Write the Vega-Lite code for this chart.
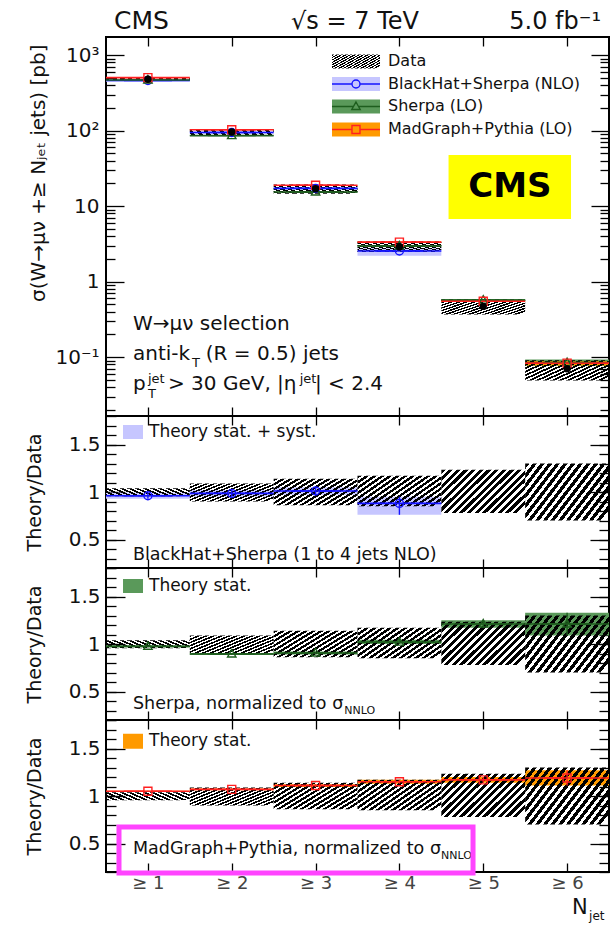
{
"$schema": "https://vega.github.io/schema/vega-lite/v6.json",
"padding": {"left": 24, "top": 7, "right": 5, "bottom": 0},
"spacing": 0,
"bounds": "flush",
"config": {
  "font": "DejaVu Sans",
  "view": {"stroke": "#000", "strokeWidth": 2},
  "axis": {"grid": false, "domain": false, "tickColor": "#000", "tickWidth": 1.3, "labelFont": "DejaVu Sans", "labelColor": "#111", "labelOverlap": false, "titleFont": "DejaVu Sans", "titleFontWeight": "normal", "titleColor": "#111"},
  "text": {"color": "#111"}
},
"datasets": {
  "xs": [
    {"nj": 1, "nlo": 0.5, "nhi": 1.5, "xsec": 480, "dlo": 458, "dhi": 499, "rlo": 0.955, "rhi": 1.04},
    {"nj": 2, "nlo": 1.5, "nhi": 2.5, "xsec": 96, "dlo": 86.4, "dhi": 104.6, "rlo": 0.90, "rhi": 1.09},
    {"nj": 3, "nlo": 2.5, "nhi": 3.5, "xsec": 17.0, "dlo": 14.6, "dhi": 19.4, "rlo": 0.86, "rhi": 1.14},
    {"nj": 4, "nlo": 3.5, "nhi": 4.5, "xsec": 2.9, "dlo": 2.47, "dhi": 3.39, "rlo": 0.85, "rhi": 1.17},
    {"nj": 5, "nlo": 4.5, "nhi": 5.5, "xsec": 0.47, "dlo": 0.367, "dhi": 0.580, "rlo": 0.78, "rhi": 1.235},
    {"nj": 6, "nlo": 5.5, "nhi": 6.5, "xsec": 0.070, "dlo": 0.049, "dhi": 0.091, "rlo": 0.70, "rhi": 1.30}
  ],
  "th": [
    {"model": "BlackHat+Sherpa (NLO)", "nj": 1, "nlo": 0.5, "nhi": 1.5, "ratio": 0.96, "rlo": 0.93, "rhi": 0.995, "val": 461, "vlo": 446, "vhi": 478},
    {"model": "BlackHat+Sherpa (NLO)", "nj": 2, "nlo": 1.5, "nhi": 2.5, "ratio": 0.985, "rlo": 0.95, "rhi": 1.02, "val": 94.6, "vlo": 91.2, "vhi": 97.9},
    {"model": "BlackHat+Sherpa (NLO)", "nj": 3, "nlo": 2.5, "nhi": 3.5, "ratio": 1.01, "rlo": 0.97, "rhi": 1.05, "val": 17.2, "vlo": 16.5, "vhi": 17.9},
    {"model": "BlackHat+Sherpa (NLO)", "nj": 4, "nlo": 3.5, "nhi": 4.5, "ratio": 0.88, "rlo": 0.76, "rhi": 0.95, "val": 2.55, "vlo": 2.20, "vhi": 2.76},
    {"model": "Sherpa (LO)", "nj": 1, "nlo": 0.5, "nhi": 1.5, "ratio": 0.975, "rlo": 0.965, "rhi": 0.985, "val": 468, "vlo": 463, "vhi": 473},
    {"model": "Sherpa (LO)", "nj": 2, "nlo": 1.5, "nhi": 2.5, "ratio": 0.895, "rlo": 0.885, "rhi": 0.905, "val": 85.9, "vlo": 85.0, "vhi": 86.9},
    {"model": "Sherpa (LO)", "nj": 3, "nlo": 2.5, "nhi": 3.5, "ratio": 0.905, "rlo": 0.89, "rhi": 0.92, "val": 15.4, "vlo": 15.1, "vhi": 15.6},
    {"model": "Sherpa (LO)", "nj": 4, "nlo": 3.5, "nhi": 4.5, "ratio": 1.02, "rlo": 1.0, "rhi": 1.045, "val": 2.96, "vlo": 2.90, "vhi": 3.03},
    {"model": "Sherpa (LO)", "nj": 5, "nlo": 4.5, "nhi": 5.5, "ratio": 1.21, "rlo": 1.17, "rhi": 1.25, "val": 0.569, "vlo": 0.550, "vhi": 0.588},
    {"model": "Sherpa (LO)", "nj": 6, "nlo": 5.5, "nhi": 6.5, "ratio": 1.21, "rlo": 1.09, "rhi": 1.33, "val": 0.0847, "vlo": 0.0763, "vhi": 0.0931},
    {"model": "MadGraph+Pythia (LO)", "nj": 1, "nlo": 0.5, "nhi": 1.5, "ratio": 1.05, "rlo": 1.045, "rhi": 1.055, "val": 504, "vlo": 502, "vhi": 506},
    {"model": "MadGraph+Pythia (LO)", "nj": 2, "nlo": 1.5, "nhi": 2.5, "ratio": 1.07, "rlo": 1.06, "rhi": 1.08, "val": 102.7, "vlo": 101.8, "vhi": 103.7},
    {"model": "MadGraph+Pythia (LO)", "nj": 3, "nlo": 2.5, "nhi": 3.5, "ratio": 1.11, "rlo": 1.095, "rhi": 1.125, "val": 18.9, "vlo": 18.6, "vhi": 19.1},
    {"model": "MadGraph+Pythia (LO)", "nj": 4, "nlo": 3.5, "nhi": 4.5, "ratio": 1.15, "rlo": 1.13, "rhi": 1.17, "val": 3.34, "vlo": 3.28, "vhi": 3.39},
    {"model": "MadGraph+Pythia (LO)", "nj": 5, "nlo": 4.5, "nhi": 5.5, "ratio": 1.17, "rlo": 1.14, "rhi": 1.20, "val": 0.550, "vlo": 0.536, "vhi": 0.564},
    {"model": "MadGraph+Pythia (LO)", "nj": 6, "nlo": 5.5, "nhi": 6.5, "ratio": 1.19, "rlo": 1.11, "rhi": 1.27, "val": 0.0833, "vlo": 0.0777, "vhi": 0.0889}
  ]
},
"vconcat": [
{
  "width": 503, "height": 379,
  "resolve": {"axis": {"x": "independent", "y": "independent"}},
  "layer": [
    {"data": {"name": "th"}, "mark": {"type": "rect"},
     "encoding": {
       "x": {"field": "nlo", "type": "quantitative", "scale": {"domain": [0.5, 6.5], "nice": false, "zero": false}, "axis": {"orient": "top", "values": [1,2,3,4,5,6], "labels": false, "tickSize": -9, "title": null}},
       "x2": {"field": "nhi"},
       "y": {"field": "vlo", "type": "quantitative", "scale": {"type": "log", "domain": [0.0166, 1740], "nice": false}, "axis": {"orient": "left", "values": [0.02,0.03,0.04,0.05,0.06,0.07,0.08,0.09,0.2,0.3,0.4,0.5,0.6,0.7,0.8,0.9,2,3,4,5,6,7,8,9,20,30,40,50,60,70,80,90,200,300,400,500,600,700,800,900], "labels": false, "tickSize": -9, "title": null}},
       "y2": {"field": "vhi"},
       "fill": {"field": "model", "type": "nominal", "scale": {"domain": ["BlackHat+Sherpa (NLO)", "Sherpa (LO)", "MadGraph+Pythia (LO)"], "range": ["#c6c6ff", "#5a995a", "#ff9a00"]}, "legend": null}
     }},
    {"data": {"name": "xs"},
     "mark": {"type": "rect", "fill": {"gradient":"linear","x1":0,"y1":0,"x2":1.15,"y2":0.6,"stops":[{"offset":0,"color":"#000"},{"offset":0.034,"color":"#000"},{"offset":0.034,"color":"transparent"},{"offset":0.0625,"color":"transparent"},{"offset":0.0625,"color":"#000"},{"offset":0.0965,"color":"#000"},{"offset":0.0965,"color":"transparent"},{"offset":0.125,"color":"transparent"},{"offset":0.125,"color":"#000"},{"offset":0.159,"color":"#000"},{"offset":0.159,"color":"transparent"},{"offset":0.1875,"color":"transparent"},{"offset":0.1875,"color":"#000"},{"offset":0.2215,"color":"#000"},{"offset":0.2215,"color":"transparent"},{"offset":0.25,"color":"transparent"},{"offset":0.25,"color":"#000"},{"offset":0.284,"color":"#000"},{"offset":0.284,"color":"transparent"},{"offset":0.3125,"color":"transparent"},{"offset":0.3125,"color":"#000"},{"offset":0.3465,"color":"#000"},{"offset":0.3465,"color":"transparent"},{"offset":0.375,"color":"transparent"},{"offset":0.375,"color":"#000"},{"offset":0.409,"color":"#000"},{"offset":0.409,"color":"transparent"},{"offset":0.4375,"color":"transparent"},{"offset":0.4375,"color":"#000"},{"offset":0.4715,"color":"#000"},{"offset":0.4715,"color":"transparent"},{"offset":0.5,"color":"transparent"},{"offset":0.5,"color":"#000"},{"offset":0.534,"color":"#000"},{"offset":0.534,"color":"transparent"},{"offset":0.5625,"color":"transparent"},{"offset":0.5625,"color":"#000"},{"offset":0.5965,"color":"#000"},{"offset":0.5965,"color":"transparent"},{"offset":0.625,"color":"transparent"},{"offset":0.625,"color":"#000"},{"offset":0.659,"color":"#000"},{"offset":0.659,"color":"transparent"},{"offset":0.6875,"color":"transparent"},{"offset":0.6875,"color":"#000"},{"offset":0.7215,"color":"#000"},{"offset":0.7215,"color":"transparent"},{"offset":0.75,"color":"transparent"},{"offset":0.75,"color":"#000"},{"offset":0.784,"color":"#000"},{"offset":0.784,"color":"transparent"},{"offset":0.8125,"color":"transparent"},{"offset":0.8125,"color":"#000"},{"offset":0.8465,"color":"#000"},{"offset":0.8465,"color":"transparent"},{"offset":0.875,"color":"transparent"},{"offset":0.875,"color":"#000"},{"offset":0.909,"color":"#000"},{"offset":0.909,"color":"transparent"},{"offset":0.9375,"color":"transparent"},{"offset":0.9375,"color":"#000"},{"offset":0.9715,"color":"#000"},{"offset":0.9715,"color":"transparent"},{"offset":1,"color":"transparent"}]}},
     "encoding": {
       "x": {"field": "nlo", "type": "quantitative", "axis": {"orient": "bottom", "values": [1,2,3,4,5,6], "labels": false, "tickSize": -9, "title": null}},
       "x2": {"field": "nhi"},
       "y": {"field": "dlo", "type": "quantitative", "axis": {"orient": "left", "values": [0.1, 1, 10, 100, 1000], "ticks": false, "labelPadding": 7, "labelFontSize": 20, "labelExpr": "datum.value >= 999 ? '10³' : datum.value >= 99 ? '10²' : datum.value >= 9 ? '10' : datum.value >= 0.9 ? '1' : '10⁻¹'", "title": "σ(W→μν +≥ Nⱼₑₜ jets) [pb]", "titleX": -62, "titleY": 7, "titleAngle": 270, "titleAlign": "right", "titleBaseline": "alphabetic", "titleFontSize": 20}},
       "y2": {"field": "dhi"}
     }},
    {"data": {"name": "th"}, "mark": {"type": "rule", "strokeWidth": 1.6},
     "encoding": {
       "x": {"field": "nlo", "type": "quantitative", "axis": null},
       "x2": {"field": "nhi"},
       "y": {"field": "val", "type": "quantitative", "axis": {"orient": "right", "values": [0.1, 1, 10, 100, 1000], "labels": false, "tickSize": -18, "title": null}},
       "stroke": {"field": "model", "type": "nominal", "scale": {"domain": ["BlackHat+Sherpa (NLO)", "Sherpa (LO)", "MadGraph+Pythia (LO)"], "range": ["#1414ff", "#1e5e1e", "#ff2020"]}, "legend": null}
     }},
    {"data": {"name": "th"}, "mark": {"type": "point", "filled": false, "size": 400, "strokeWidth": 1.4, "opacity": 1},
     "encoding": {
       "x": {"field": "nj", "type": "quantitative", "axis": null},
       "y": {"field": "val", "type": "quantitative", "axis": {"orient": "right", "values": [0.02,0.03,0.04,0.05,0.06,0.07,0.08,0.09,0.2,0.3,0.4,0.5,0.6,0.7,0.8,0.9,2,3,4,5,6,7,8,9,20,30,40,50,60,70,80,90,200,300,400,500,600,700,800,900], "labels": false, "tickSize": -9, "title": null}},
       "stroke": {"field": "model", "type": "nominal", "legend": null},
       "shape": {"field": "model", "type": "nominal", "scale": {"domain": ["BlackHat+Sherpa (NLO)", "Sherpa (LO)", "MadGraph+Pythia (LO)"], "range": ["M-2.4,0H-0.4M0.4,0H2.4M0.4,0A0.4,0.4,0,1,1,-0.4,0A0.4,0.4,0,1,1,0.4,0", "M-2.4,0H-0.3M0.3,0H2.4M0,-0.45L0.42,0.3L-0.42,0.3Z", "M-2.4,0H-0.4M0.4,0H2.4M-0.4,-0.4H0.4V0.4H-0.4Z"]}, "legend": null}
     }},
    {"data": {"name": "xs"}, "mark": {"type": "point", "filled": true, "size": 55, "color": "#000", "opacity": 1},
     "encoding": {
       "x": {"field": "nj", "type": "quantitative", "axis": null},
       "y": {"field": "xsec", "type": "quantitative", "axis": {"orient": "left", "values": [0.1, 1, 10, 100, 1000], "labels": false, "tickSize": -18, "title": null}}
     }},
    {"data": {"values": [{}]}, "mark": {"type": "rect", "fill": {"gradient":"linear","x1":0,"y1":0,"x2":1.15,"y2":0.6,"stops":[{"offset":0,"color":"#000"},{"offset":0.034,"color":"#000"},{"offset":0.034,"color":"transparent"},{"offset":0.0625,"color":"transparent"},{"offset":0.0625,"color":"#000"},{"offset":0.0965,"color":"#000"},{"offset":0.0965,"color":"transparent"},{"offset":0.125,"color":"transparent"},{"offset":0.125,"color":"#000"},{"offset":0.159,"color":"#000"},{"offset":0.159,"color":"transparent"},{"offset":0.1875,"color":"transparent"},{"offset":0.1875,"color":"#000"},{"offset":0.2215,"color":"#000"},{"offset":0.2215,"color":"transparent"},{"offset":0.25,"color":"transparent"},{"offset":0.25,"color":"#000"},{"offset":0.284,"color":"#000"},{"offset":0.284,"color":"transparent"},{"offset":0.3125,"color":"transparent"},{"offset":0.3125,"color":"#000"},{"offset":0.3465,"color":"#000"},{"offset":0.3465,"color":"transparent"},{"offset":0.375,"color":"transparent"},{"offset":0.375,"color":"#000"},{"offset":0.409,"color":"#000"},{"offset":0.409,"color":"transparent"},{"offset":0.4375,"color":"transparent"},{"offset":0.4375,"color":"#000"},{"offset":0.4715,"color":"#000"},{"offset":0.4715,"color":"transparent"},{"offset":0.5,"color":"transparent"},{"offset":0.5,"color":"#000"},{"offset":0.534,"color":"#000"},{"offset":0.534,"color":"transparent"},{"offset":0.5625,"color":"transparent"},{"offset":0.5625,"color":"#000"},{"offset":0.5965,"color":"#000"},{"offset":0.5965,"color":"transparent"},{"offset":0.625,"color":"transparent"},{"offset":0.625,"color":"#000"},{"offset":0.659,"color":"#000"},{"offset":0.659,"color":"transparent"},{"offset":0.6875,"color":"transparent"},{"offset":0.6875,"color":"#000"},{"offset":0.7215,"color":"#000"},{"offset":0.7215,"color":"transparent"},{"offset":0.75,"color":"transparent"},{"offset":0.75,"color":"#000"},{"offset":0.784,"color":"#000"},{"offset":0.784,"color":"transparent"},{"offset":0.8125,"color":"transparent"},{"offset":0.8125,"color":"#000"},{"offset":0.8465,"color":"#000"},{"offset":0.8465,"color":"transparent"},{"offset":0.875,"color":"transparent"},{"offset":0.875,"color":"#000"},{"offset":0.909,"color":"#000"},{"offset":0.909,"color":"transparent"},{"offset":0.9375,"color":"transparent"},{"offset":0.9375,"color":"#000"},{"offset":0.9715,"color":"#000"},{"offset":0.9715,"color":"transparent"},{"offset":1,"color":"transparent"}]}},
     "encoding": {"x": {"datum": 3.196, "type": "quantitative", "axis": null}, "x2": {"datum": 3.7685}, "y": {"datum": 665.8, "type": "quantitative", "axis": null}, "y2": {"datum": 1020.4}}},
    {"data": {"values": [{}]}, "mark": {"type": "rect", "fill": "#c6c6ff"},
     "encoding": {"x": {"datum": 3.196, "type": "quantitative", "axis": null}, "x2": {"datum": 3.7685}, "y": {"datum": 335.1, "type": "quantitative", "axis": null}, "y2": {"datum": 513.5}}},
    {"data": {"values": [{}]}, "mark": {"type": "rect", "fill": "#5a995a"},
     "encoding": {"x": {"datum": 3.196, "type": "quantitative", "axis": null}, "x2": {"datum": 3.7685}, "y": {"datum": 168.7, "type": "quantitative", "axis": null}, "y2": {"datum": 258.6}}},
    {"data": {"values": [{}]}, "mark": {"type": "rect", "fill": "#ff9a00"},
     "encoding": {"x": {"datum": 3.196, "type": "quantitative", "axis": null}, "x2": {"datum": 3.7685}, "y": {"datum": 83.7, "type": "quantitative", "axis": null}, "y2": {"datum": 128.3}}},
    {"data": {"values": [{}]}, "mark": {"type": "point", "filled": false, "size": 400, "strokeWidth": 1.4, "opacity": 1, "color": "#1414ff", "shape": "M-2.4,0H-0.4M0.4,0H2.4M0.4,0A0.4,0.4,0,1,1,-0.4,0A0.4,0.4,0,1,1,0.4,0"},
     "encoding": {"x": {"datum": 3.482, "type": "quantitative", "axis": null}, "y": {"datum": 414.8, "type": "quantitative", "axis": null}}},
    {"data": {"values": [{}]}, "mark": {"type": "point", "filled": false, "size": 400, "strokeWidth": 1.4, "opacity": 1, "color": "#1e5e1e", "shape": "M-2.4,0H-0.3M0.3,0H2.4M0,-0.45L0.42,0.3L-0.42,0.3Z"},
     "encoding": {"x": {"datum": 3.482, "type": "quantitative", "axis": null}, "y": {"datum": 208.9, "type": "quantitative", "axis": null}}},
    {"data": {"values": [{}]}, "mark": {"type": "point", "filled": false, "size": 400, "strokeWidth": 1.4, "opacity": 1, "color": "#ff2020", "shape": "M-2.4,0H-0.4M0.4,0H2.4M-0.4,-0.4H0.4V0.4H-0.4Z"},
     "encoding": {"x": {"datum": 3.482, "type": "quantitative", "axis": null}, "y": {"datum": 103.6, "type": "quantitative", "axis": null}}},
    {"data": {"values": [{}]}, "mark": {"type": "text", "text": "Data", "align": "left", "baseline": "middle", "fontSize": 16},
     "encoding": {"x": {"datum": 3.864, "type": "quantitative", "axis": null}, "y": {"datum": 824.2, "type": "quantitative", "axis": null}}},
    {"data": {"values": [{}]}, "mark": {"type": "text", "text": "BlackHat+Sherpa (NLO)", "align": "left", "baseline": "middle", "fontSize": 16},
     "encoding": {"x": {"datum": 3.864, "type": "quantitative", "axis": null}, "y": {"datum": 414.8, "type": "quantitative", "axis": null}}},
    {"data": {"values": [{}]}, "mark": {"type": "text", "text": "Sherpa (LO)", "align": "left", "baseline": "middle", "fontSize": 16},
     "encoding": {"x": {"datum": 3.864, "type": "quantitative", "axis": null}, "y": {"datum": 208.9, "type": "quantitative", "axis": null}}},
    {"data": {"values": [{}]}, "mark": {"type": "text", "text": "MadGraph+Pythia (LO)", "align": "left", "baseline": "middle", "fontSize": 16},
     "encoding": {"x": {"datum": 3.864, "type": "quantitative", "axis": null}, "y": {"datum": 103.6, "type": "quantitative", "axis": null}}},
    {"data": {"values": [{}]}, "mark": {"type": "text", "text": "CMS", "align": "left", "baseline": "alphabetic", "fontSize": 25},
     "encoding": {"x": {"datum": 0.595, "type": "quantitative", "axis": null}, "y": {"datum": 2221, "type": "quantitative", "axis": null}}},
    {"data": {"values": [{}]}, "mark": {"type": "text", "text": "√s = 7 TeV", "align": "center", "baseline": "alphabetic", "fontSize": 24},
     "encoding": {"x": {"datum": 3.47, "type": "quantitative", "axis": null}, "y": {"datum": 2221, "type": "quantitative", "axis": null}}},
    {"data": {"values": [{}]}, "mark": {"type": "text", "text": "5.0 fb⁻¹", "align": "right", "baseline": "alphabetic", "fontSize": 24},
     "encoding": {"x": {"datum": 6.405, "type": "quantitative", "axis": null}, "y": {"datum": 2221, "type": "quantitative", "axis": null}}},
    {"data": {"values": [{}]}, "mark": {"type": "rect", "fill": "#ffff00"},
     "encoding": {"x": {"datum": 4.586, "type": "quantitative", "axis": null}, "x2": {"datum": 6.047}, "y": {"datum": 6.755, "type": "quantitative", "axis": null}, "y2": {"datum": 47.6}}},
    {"data": {"values": [{}]}, "mark": {"type": "text", "text": "CMS", "align": "center", "baseline": "middle", "fontSize": 34, "fontWeight": "bold", "color": "#000"},
     "encoding": {"x": {"datum": 5.317, "type": "quantitative", "axis": null}, "y": {"datum": 17.93, "type": "quantitative", "axis": null}}},
    {"data": {"values": [{}]}, "mark": {"type": "text", "text": "W→μν selection", "align": "left", "baseline": "alphabetic", "fontSize": 20},
     "encoding": {"x": {"datum": 0.822, "type": "quantitative", "axis": null}, "y": {"datum": 0.2265, "type": "quantitative", "axis": null}}},
    {"data": {"values": [{}]}, "mark": {"type": "text", "text": "anti-k", "align": "left", "baseline": "alphabetic", "fontSize": 20},
     "encoding": {"x": {"datum": 0.822, "type": "quantitative", "axis": null}, "y": {"datum": 0.0907, "type": "quantitative", "axis": null}}},
    {"data": {"values": [{}]}, "mark": {"type": "text", "text": "T", "align": "left", "baseline": "alphabetic", "fontSize": 13},
     "encoding": {"x": {"datum": 1.525, "type": "quantitative", "axis": null}, "y": {"datum": 0.074, "type": "quantitative", "axis": null}}},
    {"data": {"values": [{}]}, "mark": {"type": "text", "text": "(R = 0.5) jets", "align": "left", "baseline": "alphabetic", "fontSize": 20},
     "encoding": {"x": {"datum": 1.69, "type": "quantitative", "axis": null}, "y": {"datum": 0.0907, "type": "quantitative", "axis": null}}},
    {"data": {"values": [{}]}, "mark": {"type": "text", "text": "p", "align": "left", "baseline": "alphabetic", "fontSize": 20},
     "encoding": {"x": {"datum": 0.822, "type": "quantitative", "axis": null}, "y": {"datum": 0.03634, "type": "quantitative", "axis": null}}},
    {"data": {"values": [{}]}, "mark": {"type": "text", "text": "jet", "align": "left", "baseline": "alphabetic", "fontSize": 13},
     "encoding": {"x": {"datum": 1.001, "type": "quantitative", "axis": null}, "y": {"datum": 0.04611, "type": "quantitative", "axis": null}}},
    {"data": {"values": [{}]}, "mark": {"type": "text", "text": "T", "align": "left", "baseline": "alphabetic", "fontSize": 13},
     "encoding": {"x": {"datum": 1.001, "type": "quantitative", "axis": null}, "y": {"datum": 0.02917, "type": "quantitative", "axis": null}}},
    {"data": {"values": [{}]}, "mark": {"type": "text", "text": "> 30 GeV, |η", "align": "left", "baseline": "alphabetic", "fontSize": 20},
     "encoding": {"x": {"datum": 1.2396, "type": "quantitative", "axis": null}, "y": {"datum": 0.03634, "type": "quantitative", "axis": null}}},
    {"data": {"values": [{}]}, "mark": {"type": "text", "text": "jet", "align": "left", "baseline": "alphabetic", "fontSize": 13},
     "encoding": {"x": {"datum": 2.81, "type": "quantitative", "axis": null}, "y": {"datum": 0.04611, "type": "quantitative", "axis": null}}},
    {"data": {"values": [{}]}, "mark": {"type": "text", "text": "| < 2.4", "align": "left", "baseline": "alphabetic", "fontSize": 20},
     "encoding": {"x": {"datum": 2.993, "type": "quantitative", "axis": null}, "y": {"datum": 0.03634, "type": "quantitative", "axis": null}}}
  ]
},
{
  "width": 503, "height": 152,
  "resolve": {"axis": {"x": "independent", "y": "independent"}},
  "layer": [
    {"data": {"name": "th"}, "transform": [{"filter": "datum.model == 'BlackHat+Sherpa (NLO)'"}], "mark": {"type": "rect", "fill": "#c6c6ff"},
     "encoding": {
       "x": {"field": "nlo", "type": "quantitative", "scale": {"domain": [0.5, 6.5], "nice": false, "zero": false}, "axis": {"orient": "top", "values": [1,2,3,4,5,6], "labels": false, "tickSize": -9, "title": null}},
       "x2": {"field": "nhi"},
       "y": {"field": "rlo", "type": "quantitative", "scale": {"domain": [0.2, 1.8], "nice": false, "zero": false}, "axis": {"orient": "left", "values": [0.2,0.3,0.4,0.5,0.6,0.7,0.8,0.9,1,1.1,1.2,1.3,1.4,1.5,1.6,1.7,1.8], "labels": false, "tickSize": -10, "title": null}},
       "y2": {"field": "rhi"}
     }},
    {"data": {"name": "xs"},
     "mark": {"type": "rect", "fill": {"gradient":"linear","x1":0,"y1":0,"x2":1.15,"y2":0.6,"stops":[{"offset":0,"color":"#000"},{"offset":0.034,"color":"#000"},{"offset":0.034,"color":"transparent"},{"offset":0.0625,"color":"transparent"},{"offset":0.0625,"color":"#000"},{"offset":0.0965,"color":"#000"},{"offset":0.0965,"color":"transparent"},{"offset":0.125,"color":"transparent"},{"offset":0.125,"color":"#000"},{"offset":0.159,"color":"#000"},{"offset":0.159,"color":"transparent"},{"offset":0.1875,"color":"transparent"},{"offset":0.1875,"color":"#000"},{"offset":0.2215,"color":"#000"},{"offset":0.2215,"color":"transparent"},{"offset":0.25,"color":"transparent"},{"offset":0.25,"color":"#000"},{"offset":0.284,"color":"#000"},{"offset":0.284,"color":"transparent"},{"offset":0.3125,"color":"transparent"},{"offset":0.3125,"color":"#000"},{"offset":0.3465,"color":"#000"},{"offset":0.3465,"color":"transparent"},{"offset":0.375,"color":"transparent"},{"offset":0.375,"color":"#000"},{"offset":0.409,"color":"#000"},{"offset":0.409,"color":"transparent"},{"offset":0.4375,"color":"transparent"},{"offset":0.4375,"color":"#000"},{"offset":0.4715,"color":"#000"},{"offset":0.4715,"color":"transparent"},{"offset":0.5,"color":"transparent"},{"offset":0.5,"color":"#000"},{"offset":0.534,"color":"#000"},{"offset":0.534,"color":"transparent"},{"offset":0.5625,"color":"transparent"},{"offset":0.5625,"color":"#000"},{"offset":0.5965,"color":"#000"},{"offset":0.5965,"color":"transparent"},{"offset":0.625,"color":"transparent"},{"offset":0.625,"color":"#000"},{"offset":0.659,"color":"#000"},{"offset":0.659,"color":"transparent"},{"offset":0.6875,"color":"transparent"},{"offset":0.6875,"color":"#000"},{"offset":0.7215,"color":"#000"},{"offset":0.7215,"color":"transparent"},{"offset":0.75,"color":"transparent"},{"offset":0.75,"color":"#000"},{"offset":0.784,"color":"#000"},{"offset":0.784,"color":"transparent"},{"offset":0.8125,"color":"transparent"},{"offset":0.8125,"color":"#000"},{"offset":0.8465,"color":"#000"},{"offset":0.8465,"color":"transparent"},{"offset":0.875,"color":"transparent"},{"offset":0.875,"color":"#000"},{"offset":0.909,"color":"#000"},{"offset":0.909,"color":"transparent"},{"offset":0.9375,"color":"transparent"},{"offset":0.9375,"color":"#000"},{"offset":0.9715,"color":"#000"},{"offset":0.9715,"color":"transparent"},{"offset":1,"color":"transparent"}]}},
     "encoding": {
       "x": {"field": "nlo", "type": "quantitative", "axis": {"orient": "bottom", "values": [1,2,3,4,5,6], "labels": false, "tickSize": -9, "title": null}},
       "x2": {"field": "nhi"},
       "y": {"field": "rlo", "type": "quantitative", "axis": {"orient": "left", "values": [0.5, 1, 1.5], "ticks": false, "labelPadding": 6, "labelFontSize": 20, "labelExpr": "datum.value == 1 ? '1' : datum.value < 1 ? '0.5' : '1.5'", "title": "Theory/Data", "titleX": -66, "titleY": 76, "titleAngle": 270, "titleAlign": "center", "titleBaseline": "alphabetic", "titleFontSize": 19}},
       "y2": {"field": "rhi"}
     }},
    {"data": {"name": "th"}, "transform": [{"filter": "datum.model == 'BlackHat+Sherpa (NLO)'"}], "mark": {"type": "rule", "strokeWidth": 1.6, "color": "#1414ff"},
     "encoding": {
       "x": {"field": "nlo", "type": "quantitative", "axis": null},
       "x2": {"field": "nhi"},
       "y": {"field": "ratio", "type": "quantitative", "axis": {"orient": "left", "values": [0.5, 1, 1.5], "labels": false, "tickSize": -19, "title": null}}
     }},
    {"data": {"name": "th"}, "transform": [{"filter": "datum.model == 'BlackHat+Sherpa (NLO)'"}], "mark": {"type": "point", "filled": false, "size": 400, "strokeWidth": 1.4, "color": "#1414ff", "opacity": 1, "shape": "M-2.4,0H-0.4M0.4,0H2.4M0.4,0A0.4,0.4,0,1,1,-0.4,0A0.4,0.4,0,1,1,0.4,0"},
     "encoding": {
       "x": {"field": "nj", "type": "quantitative", "axis": null},
       "y": {"field": "ratio", "type": "quantitative", "axis": {"orient": "right", "values": [0.5, 1, 1.5], "labels": false, "tickSize": -19, "title": null}}
     }},
    {"data": {"name": "th"}, "transform": [{"filter": "datum.model == 'BlackHat+Sherpa (NLO)'"}], "mark": {"type": "rule", "strokeWidth": 1.4, "color": "#1414ff"},
     "encoding": {
       "x": {"field": "nj", "type": "quantitative", "axis": null},
       "y": {"field": "rlo", "type": "quantitative", "axis": {"orient": "right", "values": [0.2,0.3,0.4,0.5,0.6,0.7,0.8,0.9,1,1.1,1.2,1.3,1.4,1.5,1.6,1.7,1.8], "labels": false, "tickSize": -10, "title": null}},
       "y2": {"field": "rhi"}
     }},
    {"data": {"values": [{}]}, "mark": {"type": "rect", "fill": "#c6c6ff"},
     "encoding": {"x": {"datum": 0.703, "type": "quantitative", "axis": null}, "x2": {"datum": 0.9414}, "y": {"datum": 1.558, "type": "quantitative", "axis": null}, "y2": {"datum": 1.705}}},
    {"data": {"values": [{}]}, "mark": {"type": "text", "text": "Theory stat. + syst.", "align": "left", "baseline": "middle", "fontSize": 17},
     "encoding": {"x": {"datum": 1.013, "type": "quantitative", "axis": null}, "y": {"datum": 1.632, "type": "quantitative", "axis": null}}},
    {"data": {"values": [{}]}, "mark": {"type": "text", "text": "BlackHat+Sherpa (1 to 4 jets NLO)", "align": "left", "baseline": "alphabetic", "fontSize": 17.5},
     "encoding": {"x": {"datum": 0.822, "type": "quantitative", "axis": null}, "y": {"datum": 0.284, "type": "quantitative", "axis": null}}}
  ]
},
{
  "width": 503, "height": 152,
  "resolve": {"axis": {"x": "independent", "y": "independent"}},
  "layer": [
    {"data": {"name": "th"}, "transform": [{"filter": "datum.model == 'Sherpa (LO)'"}], "mark": {"type": "rect", "fill": "#5a995a"},
     "encoding": {
       "x": {"field": "nlo", "type": "quantitative", "scale": {"domain": [0.5, 6.5], "nice": false, "zero": false}, "axis": {"orient": "top", "values": [1,2,3,4,5,6], "labels": false, "tickSize": -9, "title": null}},
       "x2": {"field": "nhi"},
       "y": {"field": "rlo", "type": "quantitative", "scale": {"domain": [0.2, 1.8], "nice": false, "zero": false}, "axis": {"orient": "left", "values": [0.2,0.3,0.4,0.5,0.6,0.7,0.8,0.9,1,1.1,1.2,1.3,1.4,1.5,1.6,1.7,1.8], "labels": false, "tickSize": -10, "title": null}},
       "y2": {"field": "rhi"}
     }},
    {"data": {"name": "xs"},
     "mark": {"type": "rect", "fill": {"gradient":"linear","x1":0,"y1":0,"x2":1.15,"y2":0.6,"stops":[{"offset":0,"color":"#000"},{"offset":0.034,"color":"#000"},{"offset":0.034,"color":"transparent"},{"offset":0.0625,"color":"transparent"},{"offset":0.0625,"color":"#000"},{"offset":0.0965,"color":"#000"},{"offset":0.0965,"color":"transparent"},{"offset":0.125,"color":"transparent"},{"offset":0.125,"color":"#000"},{"offset":0.159,"color":"#000"},{"offset":0.159,"color":"transparent"},{"offset":0.1875,"color":"transparent"},{"offset":0.1875,"color":"#000"},{"offset":0.2215,"color":"#000"},{"offset":0.2215,"color":"transparent"},{"offset":0.25,"color":"transparent"},{"offset":0.25,"color":"#000"},{"offset":0.284,"color":"#000"},{"offset":0.284,"color":"transparent"},{"offset":0.3125,"color":"transparent"},{"offset":0.3125,"color":"#000"},{"offset":0.3465,"color":"#000"},{"offset":0.3465,"color":"transparent"},{"offset":0.375,"color":"transparent"},{"offset":0.375,"color":"#000"},{"offset":0.409,"color":"#000"},{"offset":0.409,"color":"transparent"},{"offset":0.4375,"color":"transparent"},{"offset":0.4375,"color":"#000"},{"offset":0.4715,"color":"#000"},{"offset":0.4715,"color":"transparent"},{"offset":0.5,"color":"transparent"},{"offset":0.5,"color":"#000"},{"offset":0.534,"color":"#000"},{"offset":0.534,"color":"transparent"},{"offset":0.5625,"color":"transparent"},{"offset":0.5625,"color":"#000"},{"offset":0.5965,"color":"#000"},{"offset":0.5965,"color":"transparent"},{"offset":0.625,"color":"transparent"},{"offset":0.625,"color":"#000"},{"offset":0.659,"color":"#000"},{"offset":0.659,"color":"transparent"},{"offset":0.6875,"color":"transparent"},{"offset":0.6875,"color":"#000"},{"offset":0.7215,"color":"#000"},{"offset":0.7215,"color":"transparent"},{"offset":0.75,"color":"transparent"},{"offset":0.75,"color":"#000"},{"offset":0.784,"color":"#000"},{"offset":0.784,"color":"transparent"},{"offset":0.8125,"color":"transparent"},{"offset":0.8125,"color":"#000"},{"offset":0.8465,"color":"#000"},{"offset":0.8465,"color":"transparent"},{"offset":0.875,"color":"transparent"},{"offset":0.875,"color":"#000"},{"offset":0.909,"color":"#000"},{"offset":0.909,"color":"transparent"},{"offset":0.9375,"color":"transparent"},{"offset":0.9375,"color":"#000"},{"offset":0.9715,"color":"#000"},{"offset":0.9715,"color":"transparent"},{"offset":1,"color":"transparent"}]}},
     "encoding": {
       "x": {"field": "nlo", "type": "quantitative", "axis": {"orient": "bottom", "values": [1,2,3,4,5,6], "labels": false, "tickSize": -9, "title": null}},
       "x2": {"field": "nhi"},
       "y": {"field": "rlo", "type": "quantitative", "axis": {"orient": "left", "values": [0.5, 1, 1.5], "ticks": false, "labelPadding": 6, "labelFontSize": 20, "labelExpr": "datum.value == 1 ? '1' : datum.value < 1 ? '0.5' : '1.5'", "title": "Theory/Data", "titleX": -66, "titleY": 76, "titleAngle": 270, "titleAlign": "center", "titleBaseline": "alphabetic", "titleFontSize": 19}},
       "y2": {"field": "rhi"}
     }},
    {"data": {"name": "th"}, "transform": [{"filter": "datum.model == 'Sherpa (LO)'"}], "mark": {"type": "rule", "strokeWidth": 1.6, "color": "#1e5e1e"},
     "encoding": {
       "x": {"field": "nlo", "type": "quantitative", "axis": null},
       "x2": {"field": "nhi"},
       "y": {"field": "ratio", "type": "quantitative", "axis": {"orient": "left", "values": [0.5, 1, 1.5], "labels": false, "tickSize": -19, "title": null}}
     }},
    {"data": {"name": "th"}, "transform": [{"filter": "datum.model == 'Sherpa (LO)'"}], "mark": {"type": "point", "filled": false, "size": 400, "strokeWidth": 1.4, "color": "#1e5e1e", "opacity": 1, "shape": "M-2.4,0H-0.3M0.3,0H2.4M0,-0.45L0.42,0.3L-0.42,0.3Z"},
     "encoding": {
       "x": {"field": "nj", "type": "quantitative", "axis": null},
       "y": {"field": "ratio", "type": "quantitative", "axis": {"orient": "right", "values": [0.5, 1, 1.5], "labels": false, "tickSize": -19, "title": null}}
     }},
    {"data": {"name": "th"}, "transform": [{"filter": "datum.model == 'Sherpa (LO)'"}], "mark": {"type": "rule", "strokeWidth": 1.4, "color": "#1e5e1e"},
     "encoding": {
       "x": {"field": "nj", "type": "quantitative", "axis": null},
       "y": {"field": "rlo", "type": "quantitative", "axis": {"orient": "right", "values": [0.2,0.3,0.4,0.5,0.6,0.7,0.8,0.9,1,1.1,1.2,1.3,1.4,1.5,1.6,1.7,1.8], "labels": false, "tickSize": -10, "title": null}},
       "y2": {"field": "rhi"}
     }},
    {"data": {"values": [{}]}, "mark": {"type": "rect", "fill": "#5a995a"},
     "encoding": {"x": {"datum": 0.703, "type": "quantitative", "axis": null}, "x2": {"datum": 0.9414}, "y": {"datum": 1.537, "type": "quantitative", "axis": null}, "y2": {"datum": 1.684}}},
    {"data": {"values": [{}]}, "mark": {"type": "text", "text": "Theory stat.", "align": "left", "baseline": "middle", "fontSize": 17},
     "encoding": {"x": {"datum": 1.013, "type": "quantitative", "axis": null}, "y": {"datum": 1.611, "type": "quantitative", "axis": null}}},
    {"data": {"values": [{}]}, "mark": {"type": "text", "text": "Sherpa, normalized to", "align": "left", "baseline": "alphabetic", "fontSize": 17.5},
     "encoding": {"x": {"datum": 0.822, "type": "quantitative", "axis": null}, "y": {"datum": 0.319, "type": "quantitative", "axis": null}}},
    {"data": {"values": [{}]}, "mark": {"type": "text", "text": "σ", "align": "left", "baseline": "alphabetic", "fontSize": 17.5},
     "encoding": {"x": {"datum": 3.2, "type": "quantitative", "axis": null}, "y": {"datum": 0.319, "type": "quantitative", "axis": null}}},
    {"data": {"values": [{}]}, "mark": {"type": "text", "text": "NNLO", "align": "left", "baseline": "alphabetic", "fontSize": 11},
     "encoding": {"x": {"datum": 3.343, "type": "quantitative", "axis": null}, "y": {"datum": 0.266, "type": "quantitative", "axis": null}}}
  ]
},
{
  "width": 503, "height": 152,
  "resolve": {"axis": {"x": "independent", "y": "independent"}},
  "layer": [
    {"data": {"name": "th"}, "transform": [{"filter": "datum.model == 'MadGraph+Pythia (LO)'"}], "mark": {"type": "rect", "fill": "#ff9a00"},
     "encoding": {
       "x": {"field": "nlo", "type": "quantitative", "scale": {"domain": [0.5, 6.5], "nice": false, "zero": false}, "axis": {"orient": "top", "values": [1,2,3,4,5,6], "labels": false, "tickSize": -9, "title": null}},
       "x2": {"field": "nhi"},
       "y": {"field": "rlo", "type": "quantitative", "scale": {"domain": [0.2, 1.8], "nice": false, "zero": false}, "axis": {"orient": "left", "values": [0.2,0.3,0.4,0.5,0.6,0.7,0.8,0.9,1,1.1,1.2,1.3,1.4,1.5,1.6,1.7,1.8], "labels": false, "tickSize": -10, "title": null}},
       "y2": {"field": "rhi"}
     }},
    {"data": {"name": "xs"},
     "mark": {"type": "rect", "fill": {"gradient":"linear","x1":0,"y1":0,"x2":1.15,"y2":0.6,"stops":[{"offset":0,"color":"#000"},{"offset":0.034,"color":"#000"},{"offset":0.034,"color":"transparent"},{"offset":0.0625,"color":"transparent"},{"offset":0.0625,"color":"#000"},{"offset":0.0965,"color":"#000"},{"offset":0.0965,"color":"transparent"},{"offset":0.125,"color":"transparent"},{"offset":0.125,"color":"#000"},{"offset":0.159,"color":"#000"},{"offset":0.159,"color":"transparent"},{"offset":0.1875,"color":"transparent"},{"offset":0.1875,"color":"#000"},{"offset":0.2215,"color":"#000"},{"offset":0.2215,"color":"transparent"},{"offset":0.25,"color":"transparent"},{"offset":0.25,"color":"#000"},{"offset":0.284,"color":"#000"},{"offset":0.284,"color":"transparent"},{"offset":0.3125,"color":"transparent"},{"offset":0.3125,"color":"#000"},{"offset":0.3465,"color":"#000"},{"offset":0.3465,"color":"transparent"},{"offset":0.375,"color":"transparent"},{"offset":0.375,"color":"#000"},{"offset":0.409,"color":"#000"},{"offset":0.409,"color":"transparent"},{"offset":0.4375,"color":"transparent"},{"offset":0.4375,"color":"#000"},{"offset":0.4715,"color":"#000"},{"offset":0.4715,"color":"transparent"},{"offset":0.5,"color":"transparent"},{"offset":0.5,"color":"#000"},{"offset":0.534,"color":"#000"},{"offset":0.534,"color":"transparent"},{"offset":0.5625,"color":"transparent"},{"offset":0.5625,"color":"#000"},{"offset":0.5965,"color":"#000"},{"offset":0.5965,"color":"transparent"},{"offset":0.625,"color":"transparent"},{"offset":0.625,"color":"#000"},{"offset":0.659,"color":"#000"},{"offset":0.659,"color":"transparent"},{"offset":0.6875,"color":"transparent"},{"offset":0.6875,"color":"#000"},{"offset":0.7215,"color":"#000"},{"offset":0.7215,"color":"transparent"},{"offset":0.75,"color":"transparent"},{"offset":0.75,"color":"#000"},{"offset":0.784,"color":"#000"},{"offset":0.784,"color":"transparent"},{"offset":0.8125,"color":"transparent"},{"offset":0.8125,"color":"#000"},{"offset":0.8465,"color":"#000"},{"offset":0.8465,"color":"transparent"},{"offset":0.875,"color":"transparent"},{"offset":0.875,"color":"#000"},{"offset":0.909,"color":"#000"},{"offset":0.909,"color":"transparent"},{"offset":0.9375,"color":"transparent"},{"offset":0.9375,"color":"#000"},{"offset":0.9715,"color":"#000"},{"offset":0.9715,"color":"transparent"},{"offset":1,"color":"transparent"}]}},
     "encoding": {
       "x": {"field": "nlo", "type": "quantitative", "axis": {"orient": "bottom", "values": [1,2,3,4,5,6], "labels": false, "tickSize": -9, "title": null}},
       "x2": {"field": "nhi"},
       "y": {"field": "rlo", "type": "quantitative", "axis": {"orient": "left", "values": [0.5, 1, 1.5], "ticks": false, "labelPadding": 6, "labelFontSize": 20, "labelExpr": "datum.value == 1 ? '1' : datum.value < 1 ? '0.5' : '1.5'", "title": "Theory/Data", "titleX": -66, "titleY": 76, "titleAngle": 270, "titleAlign": "center", "titleBaseline": "alphabetic", "titleFontSize": 19}},
       "y2": {"field": "rhi"}
     }},
    {"data": {"name": "th"}, "transform": [{"filter": "datum.model == 'MadGraph+Pythia (LO)'"}], "mark": {"type": "rule", "strokeWidth": 1.6, "color": "#ff2020"},
     "encoding": {
       "x": {"field": "nlo", "type": "quantitative", "axis": {"orient": "bottom", "values": [1,2,3,4,5,6], "ticks": false, "labelPadding": 2, "labelFontSize": 18, "labelColor": "#444", "labelExpr": "'≥ ' + datum.value", "title": null}},
       "x2": {"field": "nhi"},
       "y": {"field": "ratio", "type": "quantitative", "axis": {"orient": "left", "values": [0.5, 1, 1.5], "labels": false, "tickSize": -19, "title": null}}
     }},
    {"data": {"name": "th"}, "transform": [{"filter": "datum.model == 'MadGraph+Pythia (LO)'"}], "mark": {"type": "point", "filled": false, "size": 400, "strokeWidth": 1.4, "color": "#ff2020", "opacity": 1, "shape": "M-2.4,0H-0.4M0.4,0H2.4M-0.4,-0.4H0.4V0.4H-0.4Z"},
     "encoding": {
       "x": {"field": "nj", "type": "quantitative", "axis": null},
       "y": {"field": "ratio", "type": "quantitative", "axis": {"orient": "right", "values": [0.5, 1, 1.5], "labels": false, "tickSize": -19, "title": null}}
     }},
    {"data": {"name": "th"}, "transform": [{"filter": "datum.model == 'MadGraph+Pythia (LO)'"}], "mark": {"type": "rule", "strokeWidth": 1.4, "color": "#ff2020"},
     "encoding": {
       "x": {"field": "nj", "type": "quantitative", "axis": null},
       "y": {"field": "rlo", "type": "quantitative", "axis": {"orient": "right", "values": [0.2,0.3,0.4,0.5,0.6,0.7,0.8,0.9,1,1.1,1.2,1.3,1.4,1.5,1.6,1.7,1.8], "labels": false, "tickSize": -10, "title": null}},
       "y2": {"field": "rhi"}
     }},
    {"data": {"values": [{}]}, "mark": {"type": "rect", "fill": "#ff9a00"},
     "encoding": {"x": {"datum": 0.703, "type": "quantitative", "axis": null}, "x2": {"datum": 0.9414}, "y": {"datum": 1.498, "type": "quantitative", "axis": null}, "y2": {"datum": 1.656}}},
    {"data": {"values": [{}]}, "mark": {"type": "text", "text": "Theory stat.", "align": "left", "baseline": "middle", "fontSize": 17},
     "encoding": {"x": {"datum": 1.013, "type": "quantitative", "axis": null}, "y": {"datum": 1.579, "type": "quantitative", "axis": null}}},
    {"data": {"values": [{}]}, "mark": {"type": "text", "text": "MadGraph+Pythia, normalized to", "align": "left", "baseline": "alphabetic", "fontSize": 17.5},
     "encoding": {"x": {"datum": 0.822, "type": "quantitative", "axis": null}, "y": {"datum": 0.393, "type": "quantitative", "axis": null}}},
    {"data": {"values": [{}]}, "mark": {"type": "text", "text": "σ", "align": "left", "baseline": "alphabetic", "fontSize": 17.5},
     "encoding": {"x": {"datum": 4.365, "type": "quantitative", "axis": null}, "y": {"datum": 0.393, "type": "quantitative", "axis": null}}},
    {"data": {"values": [{}]}, "mark": {"type": "text", "text": "NNLO", "align": "left", "baseline": "alphabetic", "fontSize": 11},
     "encoding": {"x": {"datum": 4.496, "type": "quantitative", "axis": null}, "y": {"datum": 0.34, "type": "quantitative", "axis": null}}},
    {"data": {"values": [{}]}, "mark": {"type": "rect", "fill": "transparent", "stroke": "#ff44ff", "strokeWidth": 5},
     "encoding": {"x": {"datum": 0.655, "type": "quantitative", "axis": null}, "x2": {"datum": 4.878}, "y": {"datum": 0.189, "type": "quantitative", "axis": null}, "y2": {"datum": 0.674}}},
    {"data": {"values": [{}]}, "mark": {"type": "text", "text": "N", "align": "left", "baseline": "alphabetic", "fontSize": 21},
     "encoding": {"x": {"datum": 6.059, "type": "quantitative", "axis": null}, "y": {"datum": -0.242, "type": "quantitative", "axis": null}}},
    {"data": {"values": [{}]}, "mark": {"type": "text", "text": "jet", "align": "left", "baseline": "alphabetic", "fontSize": 12},
     "encoding": {"x": {"datum": 6.262, "type": "quantitative", "axis": null}, "y": {"datum": -0.305, "type": "quantitative", "axis": null}}}
  ]
}
]
}
